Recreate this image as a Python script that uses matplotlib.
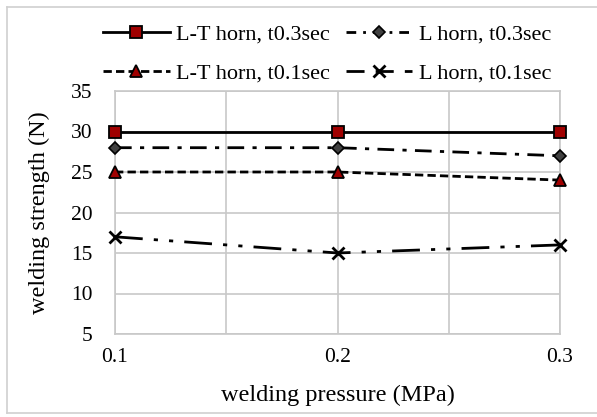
import matplotlib
matplotlib.use("Agg")
import matplotlib.pyplot as plt
from matplotlib.lines import Line2D

pressure = [0.1, 0.2, 0.3]
lt_03 = [30, 30, 30]
l_03 = [28, 28, 27]
lt_01 = [25, 25, 24]
l_01 = [17, 15, 16]
labels = ["L-T horn, t0.3sec", "L horn, t0.3sec", "L-T horn, t0.1sec", "L horn, t0.1sec"]

plt.rcParams['font.family'] = ['Liberation Serif', 'DejaVu Serif']

fig = plt.figure(figsize=(5.97, 4.17), dpi=100)
ax = fig.add_axes([115/597, 1-334/417, (560-115)/597, (334-91)/417])

h1, = ax.plot(pressure, lt_03, color='black', lw=2, ls='-', marker='s', ms=8,
              mfc='#a00000', mec='black', mew=1.3, zorder=5, clip_on=False)
h2, = ax.plot(pressure, l_03, color='black', lw=2, ls=(0, (6, 3, 1.5, 3)), marker='D', ms=6.5,
              mfc='#404040', mec='black', mew=1.2, zorder=5, clip_on=False)
h3, = ax.plot(pressure, lt_01, color='black', lw=2, ls=(0, (3, 1.5)), marker='^', ms=8,
              mfc='#a00000', mec='black', mew=1.3, zorder=5, clip_on=False)
h4, = ax.plot(pressure, l_01, color='black', lw=2, ls=(0, (10, 4, 1.5, 4, 1.5, 4)), marker='x', ms=8,
              mec='black', mew=2, zorder=5, clip_on=False)

# legend proxies with dash patterns resembling the reference legend
p2 = Line2D([], [], color='black', lw=2, ls=(0, (3.5, 2.5, 1, 2.5)), marker='D', ms=6.5,
            mfc='#404040', mec='black', mew=1.2)
p4 = Line2D([], [], color='black', lw=2, ls=(0, (6.5, 4)), marker='x', ms=8,
            mec='black', mew=2)

ax.set_xlim(0.1, 0.3)
ax.set_ylim(5, 35)
ax.set_yticks(range(5, 36, 5))
ax.set_xticks([0.1, 0.2, 0.3])
ax.set_xticklabels(["0.1", "0.2", "0.3"])
ax.set_xticks([0.15, 0.25], minor=True)
ax.grid(True, which='both', color='#c8c8c8', lw=1.2)
ax.set_axisbelow(True)
for s in ax.spines.values():
    s.set_color('#c8c8c8')
    s.set_linewidth(1.2)
ax.tick_params(which='both', length=0, labelsize=15.5)
ax.tick_params(axis='y', pad=16)
ax.tick_params(axis='x', pad=10)
ax.set_xlabel("welding pressure (MPa)", fontsize=17.5, labelpad=13)
ax.set_ylabel("welding strength (N)", fontsize=17.5, labelpad=15)

fig.legend([h1, h3, p2, p4], [labels[0], labels[2], labels[1], labels[3]],
           ncol=2, loc='upper left', bbox_to_anchor=(103/597, 1-24/417),
           borderpad=0, borderaxespad=0,
           frameon=False, fontsize=16, handlelength=3.0, columnspacing=0.7,
           handletextpad=0.3, labelspacing=0.85)

fig.add_artist(Line2D([7/597, 7/597], [4/417, 1-7/417], color='#d0d0d0', lw=1.2, transform=fig.transFigure))
fig.add_artist(Line2D([7/597, 1], [1-7/417, 1-7/417], color='#d0d0d0', lw=1.2, transform=fig.transFigure))
fig.add_artist(Line2D([7/597, 1], [4/417, 4/417], color='#d0d0d0', lw=1.2, transform=fig.transFigure))

fig.savefig("out.png", dpi=100)
